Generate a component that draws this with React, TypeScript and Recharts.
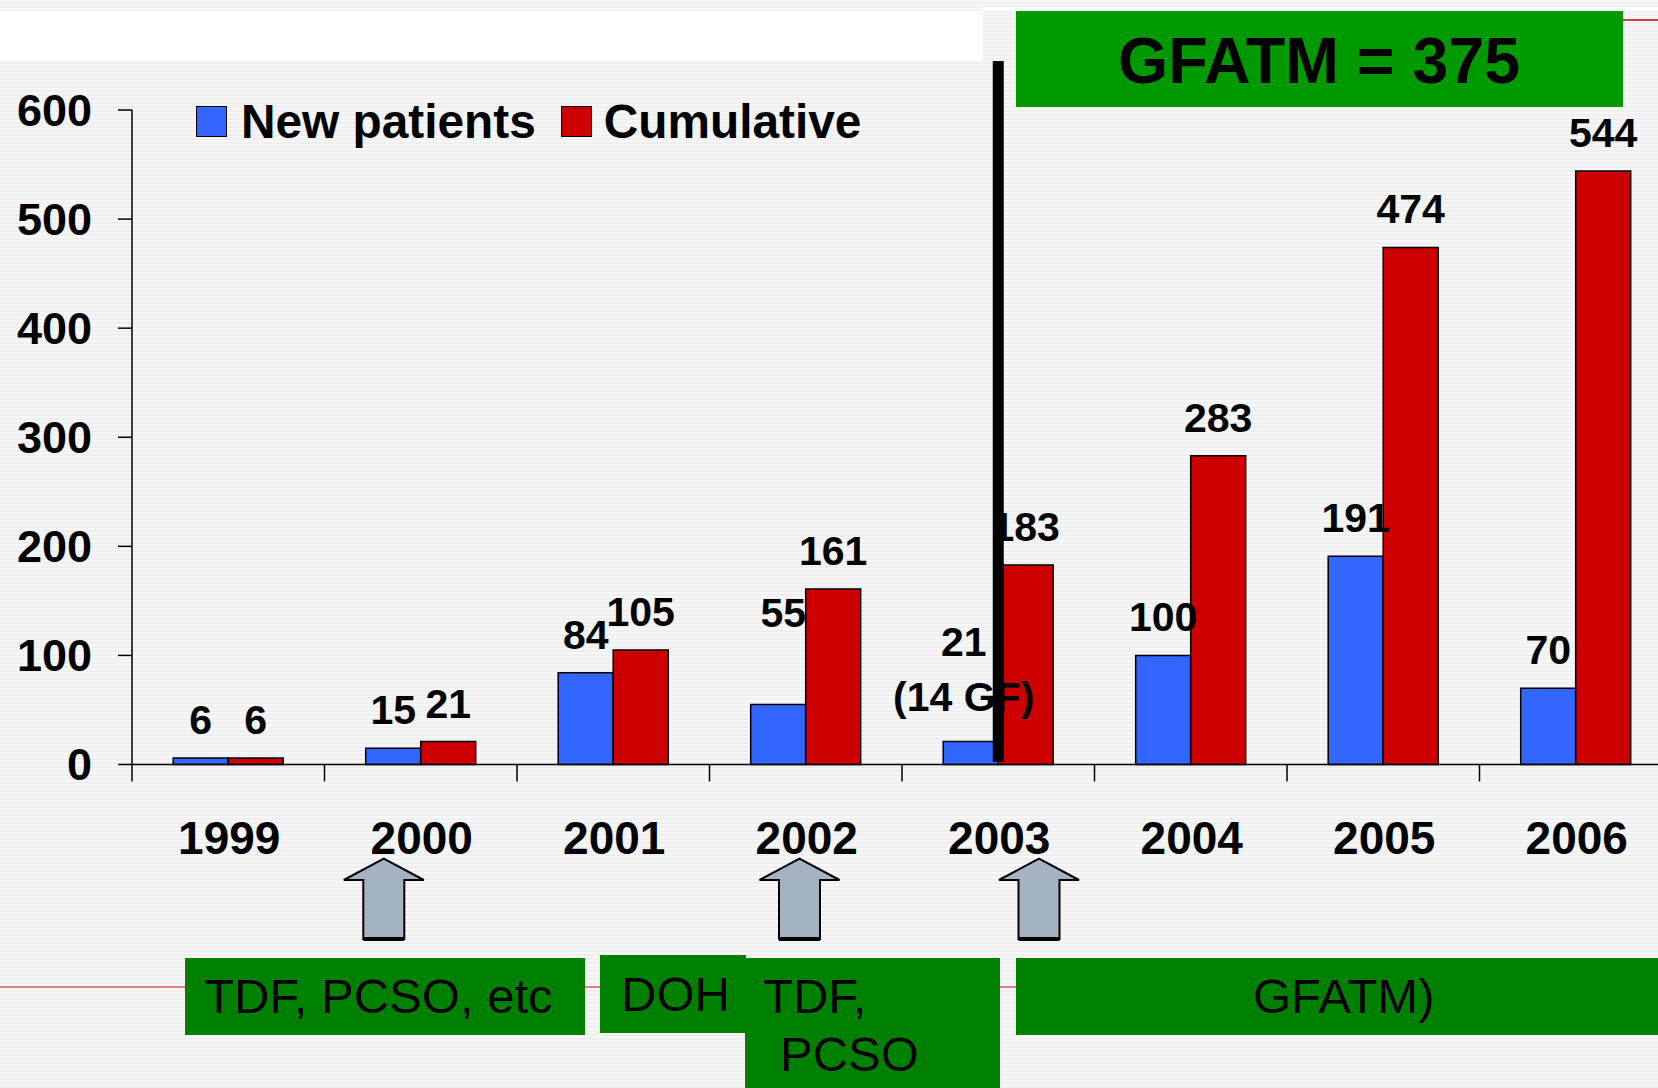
import React from "react";
import {
  BarChart,
  Bar,
  XAxis,
  YAxis,
  LabelList,
  ReferenceLine,
} from "recharts";

const YEARS = ["1999", "2000", "2001", "2002", "2003", "2004", "2005", "2006"];
const NEW_PATIENTS = [6, 15, 84, 55, 21, 100, 191, 70];
const CUMULATIVE = [6, 21, 105, 161, 183, 283, 474, 544];
const NEW_NOTES = ["", "", "", "", "(14 GF)", "", "", ""];
const Y_TICKS = [0, 100, 200, 300, 400, 500, 600];

const data = YEARS.map((year, i) => ({
  year,
  newPatients: NEW_PATIENTS[i],
  cumulative: CUMULATIVE[i],
}));

const FONT = "'Liberation Sans', Arial, sans-serif";
const BLUE = "#3366FF";
const RED = "#CC0000";
const BOX_GREEN = "#008000";

const CHART_W = 1680;
const CHART_H = 1088;
const PLOT_LEFT = 132;
const PLOT_RIGHT_MARGIN = 8;
const PLOT_W = CHART_W - PLOT_LEFT - PLOT_RIGHT_MARGIN;

// a couple of the blue labels sit higher in the original slide
const NUDGE: Record<number, { dx: number; dy: number }> = {
  3: { dx: 5, dy: -54 },
  4: { dx: -7, dy: -62 },
};

function NewLabel(props: any) {
  const { x, y, width, value, index } = props;
  const n = NUDGE[index] ?? { dx: 0, dy: 0 };
  const cx = Number(x) + Number(width) / 2 + n.dx;
  const base = Number(y) - 24 + n.dy;
  const note = NEW_NOTES[index];
  return (
    <g>
      <text x={cx} y={base} textAnchor="middle" fontFamily={FONT} fontWeight="bold" fontSize={41} fill="#000">
        {value}
      </text>
      {note ? (
        <text x={cx} y={base + 55} textAnchor="middle" fontFamily={FONT} fontWeight="bold" fontSize={41} fill="#000">
          {note}
        </text>
      ) : null}
    </g>
  );
}

function CumLabel(props: any) {
  const { x, y, width, value } = props;
  return (
    <text
      x={Number(x) + Number(width) / 2}
      y={Number(y) - 24}
      textAnchor="middle"
      fontFamily={FONT}
      fontWeight="bold"
      fontSize={41}
      fill="#000"
    >
      {value}
    </text>
  );
}

function YearTick(props: any) {
  const { x, y, payload } = props;
  const half = payload?.offset || PLOT_W / YEARS.length / 2;
  const lx = x - half;
  return (
    <g>
      <line x1={lx} x2={lx} y1={y} y2={y + 17} stroke="#000" strokeWidth={1.5} />
      <text x={x + 1} y={y + 89} textAnchor="middle" fontFamily={FONT} fontWeight="bold" fontSize={46} fill="#000">
        {payload.value}
      </text>
    </g>
  );
}

function LegendBlock() {
  const sq = (c: string) => ({
    display: "inline-block",
    width: 31,
    height: 31,
    background: c,
    border: "1.5px solid #000",
    boxSizing: "border-box" as const,
  });
  return (
    <div
      style={{
        position: "absolute",
        left: 196,
        top: 98,
        display: "flex",
        alignItems: "center",
        fontFamily: FONT,
        fontWeight: "bold",
        fontSize: 47.8,
        lineHeight: "47px",
        color: "#000",
        whiteSpace: "nowrap",
      }}
    >
      <span style={{ ...sq(BLUE), marginRight: 14 }} />
      New patients
      <span style={{ ...sq(RED), marginLeft: 25, marginRight: 12 }} />
      Cumulative
    </div>
  );
}

function Arrow({ cx }: { cx: number }) {
  const tip = 858.6;
  const base = 880;
  const bottom = 939;
  const hw = 40;
  const sw = 20.5;
  const pts = [
    [cx, tip],
    [cx + hw, base],
    [cx + sw, base],
    [cx + sw, bottom],
    [cx - sw, bottom],
    [cx - sw, base],
    [cx - hw, base],
  ]
    .map((p) => p.join(","))
    .join(" ");
  return (
    <g>
      <polygon points={pts} fill="#A3B3C2" stroke="#000" strokeWidth={2} strokeLinejoin="miter" />
      <line x1={cx - sw} x2={cx + sw} y1={bottom} y2={bottom} stroke="#000" strokeWidth={4} />
    </g>
  );
}

function Backdrop() {
  const txt = { fontFamily: FONT, fontSize: 49, fill: "#000" };
  return (
    <svg width={1658} height={1088} style={{ position: "absolute", left: 0, top: 0 }}>
      <rect x={0} y={11} width={983} height={49} fill="#fff" />
      <rect x={983} y={7} width={675} height={4} fill="#fff" />
      <line x1={1623} x2={1658} y1={20} y2={20} stroke="#D04040" strokeWidth={2} />
      <line x1={0} x2={1658} y1={987} y2={987} stroke="#E08080" strokeWidth={2} />

      <rect x={1016} y={11} width={607} height={96} fill="#009900" />
      <text x={1319} y={83} textAnchor="middle" fontFamily={FONT} fontWeight="bold" fontSize={64.5} fill="#000">
        GFATM = 375
      </text>

      <Arrow cx={383.8} />
      <Arrow cx={799.5} />
      <Arrow cx={1039} />

      <rect x={185} y={958} width={400} height={77} fill={BOX_GREEN} />
      <text x={204} y={1013} {...txt}>TDF, PCSO, etc</text>

      <rect x={600} y={955} width={146} height={78} fill={BOX_GREEN} />
      <text x={621} y={1011} {...txt}>DOH</text>

      <rect x={745} y={958} width={255} height={130} fill={BOX_GREEN} />
      <text x={763} y={1013} {...txt}>TDF,</text>
      <text x={780} y={1071} {...txt}>PCSO</text>

      <rect x={1016} y={958} width={642} height={77} fill={BOX_GREEN} />
      <text x={1253} y={1013} {...txt}>GFATM)</text>
    </svg>
  );
}

export default function App() {
  return (
    <div
      style={{
        position: "absolute",
        left: 0,
        top: 0,
        width: 1658,
        height: 1088,
        overflow: "hidden",
        background:
          "repeating-linear-gradient(to bottom, #f7f7f7 0px, #f7f7f7 2px, #efefef 2px, #efefef 4px)",
      }}
    >
      <Backdrop />
      <div style={{ position: "absolute", left: 0, top: 0 }}>
        <BarChart
          width={CHART_W}
          height={CHART_H}
          data={data}
          margin={{ top: 110, right: PLOT_RIGHT_MARGIN, left: 0, bottom: 223.5 }}
          barCategoryGap="21.4%"
          barGap={0}
        >
          <XAxis
            dataKey="year"
            height={100}
            tick={<YearTick />}
            tickLine={false}
            tickSize={0}
            tickMargin={0}
            axisLine={{ stroke: "#000", strokeWidth: 1.5 }}
            interval={0}
          />
          <YAxis
            width={PLOT_LEFT}
            domain={[0, 600]}
            ticks={Y_TICKS}
            tickSize={14}
            tickMargin={26}
            tick={{ fontFamily: FONT, fontWeight: "bold", fontSize: 45, fill: "#000" }}
            tickLine={{ stroke: "#000", strokeWidth: 1.5 }}
            axisLine={{ stroke: "#000", strokeWidth: 1.5 }}
            interval={0}
          />
          <Bar dataKey="newPatients" name="New patients" fill={BLUE} stroke="#000" strokeWidth={1.5} isAnimationActive={false}>
            <LabelList dataKey="newPatients" content={<NewLabel />} />
          </Bar>
          <Bar dataKey="cumulative" name="Cumulative" fill={RED} stroke="#000" strokeWidth={1.5} isAnimationActive={false}>
            <LabelList dataKey="cumulative" content={<CumLabel />} />
          </Bar>
          <ReferenceLine
            segment={[
              { x: "2003", y: 2.5 },
              { x: "2003", y: 645 },
            ]}
            stroke="#000"
            strokeWidth={11}
            ifOverflow="visible"
          />
        </BarChart>
      </div>
      <LegendBlock />
    </div>
  );
}
